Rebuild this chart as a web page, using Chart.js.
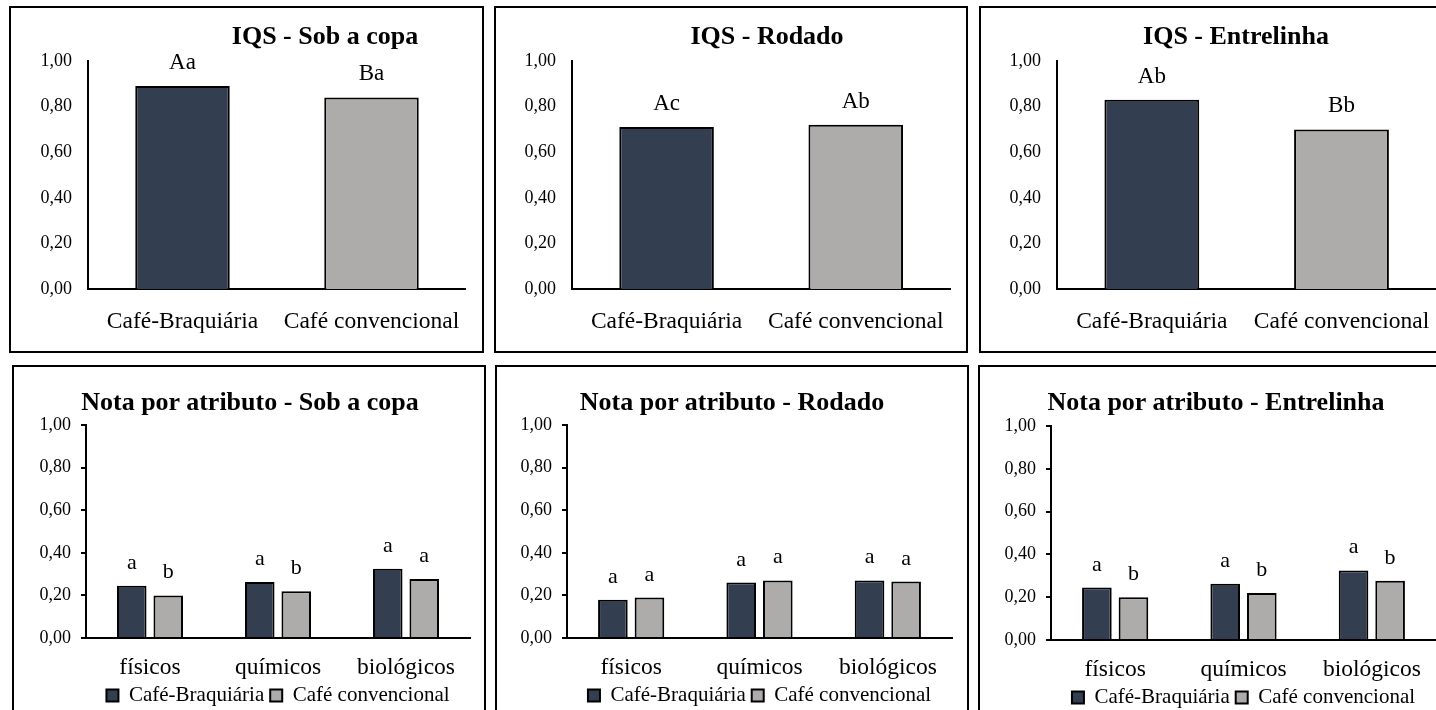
<!DOCTYPE html>
<html>
<head>
<meta charset="utf-8">
<script src="https://cdn.jsdelivr.net/npm/chart.js@4.4.1/dist/chart.umd.min.js"></script>
<style>
  body { margin: 0; width: 1436px; height: 710px; overflow: hidden; background: #fff; position: relative;
         font-family: 'Liberation Serif', 'Times New Roman', serif; color: #000; }
  .painel { position: absolute; border: 2px solid #000; box-sizing: border-box; overflow: hidden; }
  .painel canvas { position: absolute; left: 0; top: 0; }
  .titulo { position: absolute; font-weight: bold; font-size: 26px; line-height: 26px; white-space: nowrap;
            transform: translateX(-50%); }
</style>
</head>
<body>
<script>
// ---- dados ----
const tratamentos = ['Café-Braquiária', 'Café convencional'];
const iqsSobCopa = [0.89, 0.84];
const iqsRodado = [0.71, 0.72];
const iqsEntrelinha = [0.83, 0.70];
const letrasIqsSobCopa = ['Aa', 'Ba'];
const letrasIqsRodado = ['Ac', 'Ab'];
const letrasIqsEntrelinha = ['Ab', 'Bb'];

const atributos = ['físicos', 'químicos', 'biológicos'];
const notaSobCopaBraq = [0.245, 0.263, 0.325];
const notaSobCopaConv = [0.20, 0.22, 0.277];
const notaRodadoBraq = [0.18, 0.26, 0.27];
const notaRodadoConv = [0.19, 0.27, 0.265];
const notaEntrelinhaBraq = [0.245, 0.263, 0.325];
const notaEntrelinhaConv = [0.20, 0.22, 0.277];
const letrasSobCopaBraq = ['a', 'a', 'a'];
const letrasSobCopaConv = ['b', 'b', 'a'];
const letrasRodadoBraq = ['a', 'a', 'a'];
const letrasRodadoConv = ['a', 'a', 'a'];
const letrasEntrelinhaBraq = ['a', 'a', 'a'];
const letrasEntrelinhaConv = ['b', 'b', 'b'];

const COR_BRAQ = '#333F50';
const COR_CONV = '#AEABAB';
const FONTE = "'Liberation Serif', 'Times New Roman', serif";

Chart.defaults.font.family = FONTE;
Chart.defaults.color = '#000';

// letras de significancia acima das barras
const letrasPlugin = {
  id: 'letras',
  afterDatasetsDraw(chart, args, opts) {
    const ctx = chart.ctx;
    ctx.save();
    ctx.font = opts.size + 'px ' + FONTE;
    ctx.fillStyle = '#000';
    ctx.textAlign = 'center';
    ctx.textBaseline = 'alphabetic';
    chart.data.datasets.forEach((ds, i) => {
      chart.getDatasetMeta(i).data.forEach((bar, j) => {
        ctx.fillText(opts.labels[i][j], bar.x, bar.y - 17);
      });
    });
    ctx.restore();
  }
};

const fmt = v => v.toFixed(2).replace('.', ',');

function painel(box, titulo, tituloX, tituloY) {
  const div = document.createElement('div');
  div.className = 'painel';
  div.style.left = box.x + 'px';
  div.style.top = box.y + 'px';
  div.style.width = box.w + 'px';
  div.style.height = box.h + 'px';
  document.body.appendChild(div);
  const cv = document.createElement('canvas');
  cv.width = box.w - 4;
  cv.height = box.h - 4;
  div.appendChild(cv);
  const t = document.createElement('div');
  t.className = 'titulo';
  t.textContent = titulo;
  t.style.left = tituloX + 'px';
  t.style.top = tituloY + 'px';
  document.body.appendChild(t);
  return cv;
}

// area = coordenadas absolutas da area do grafico
function montar(box, area, cfg, titulo, tx, ty) {
  const cv = painel(box, titulo, tx, ty);
  const ox = box.x + 2, oy = box.y + 2;
  const l = area.l - ox, r = area.r - ox, t = area.t - oy, b = area.b - oy;
  cfg.options.layout = { padding: { left: 0, right: cv.width - r, top: t, bottom: 0 } };
  cfg.options.scales.y.afterFit = s => { s.width = l; };
  const chart = new Chart(cv, cfg);
  const diff = chart.chartArea.bottom - b;
  chart.options.layout.padding.bottom = diff;
  chart.update();
}

function iqs(box, area, valores, letras, titulo, tx) {
  montar(box, area, {
    type: 'bar',
    data: {
      labels: tratamentos,
      datasets: [{
        data: valores,
        backgroundColor: [COR_BRAQ, COR_CONV],
        borderColor: '#000',
        borderWidth: 2,
        borderSkipped: 'bottom',
        categoryPercentage: 0.5,
        barPercentage: 1
      }]
    },
    options: {
      responsive: false,
      animation: false,
      events: [],
      plugins: {
        legend: { display: false },
        tooltip: { enabled: false },
        letras: { labels: [letras], size: 23 }
      },
      scales: {
        x: {
          grid: { display: false, drawTicks: false },
          border: { display: true, color: '#000', width: 2 },
          ticks: { font: { size: 23.5 }, padding: 19, color: '#000' }
        },
        y: {
          min: 0, max: 1,
          grid: { display: false, drawTicks: false },
          border: { display: true, color: '#000', width: 2 },
          ticks: { stepSize: 0.2, callback: fmt, font: { size: 18 }, padding: 16, color: '#000' }
        }
      }
    },
    plugins: [letrasPlugin]
  }, titulo, tx, 23);
}

function nota(box, area, braq, conv, letrasB, letrasC, titulo, tx, legPad) {
  montar(box, area, {
    type: 'bar',
    data: {
      labels: atributos,
      datasets: [
        { label: 'Café-Braquiária', data: braq, backgroundColor: COR_BRAQ, borderColor: '#000', borderWidth: 2,
          borderSkipped: 'bottom', categoryPercentage: 0.57, barPercentage: 0.81 },
        { label: 'Café convencional', data: conv, backgroundColor: COR_CONV, borderColor: '#000', borderWidth: 2,
          borderSkipped: 'bottom', categoryPercentage: 0.57, barPercentage: 0.81 }
      ]
    },
    options: {
      responsive: false,
      animation: false,
      events: [],
      plugins: {
        legend: {
          position: 'bottom',
          fullSize: false,
          labels: { boxWidth: 12, boxHeight: 12, padding: legPad, font: { size: 21 }, color: '#000' }
        },
        tooltip: { enabled: false },
        letras: { labels: [letrasB, letrasC], size: 22 }
      },
      scales: {
        x: {
          grid: { display: false, drawTicks: false },
          border: { display: true, color: '#000', width: 2 },
          ticks: { font: { size: 23.5 }, padding: 16, color: '#000' },
          afterFit: s => { s.height = 41; }
        },
        y: {
          min: 0, max: 1,
          grid: { display: true, drawOnChartArea: false, drawTicks: true, tickLength: 5, color: '#000', lineWidth: 2 },
          border: { display: true, color: '#000', width: 2 },
          ticks: { stepSize: 0.2, callback: fmt, font: { size: 18 }, padding: 10, color: '#000' }
        }
      }
    },
    plugins: [letrasPlugin]
  }, titulo, tx, 389);
}

iqs({ x: 9, y: 6, w: 475, h: 347 }, { l: 88, r: 467, t: 61, b: 289 }, iqsSobCopa, letrasIqsSobCopa, 'IQS - Sob a copa', 325);
iqs({ x: 494, y: 6, w: 474, h: 347 }, { l: 572, r: 952, t: 61, b: 289 }, iqsRodado, letrasIqsRodado, 'IQS - Rodado', 767);
iqs({ x: 979, y: 6, w: 475, h: 347 }, { l: 1057, r: 1437, t: 61, b: 289 }, iqsEntrelinha, letrasIqsEntrelinha, 'IQS - Entrelinha', 1236);

nota({ x: 12, y: 365, w: 474, h: 400 }, { l: 86, r: 470, t: 425, b: 638 }, notaSobCopaBraq, notaSobCopaConv,
  letrasSobCopaBraq, letrasSobCopaConv, 'Nota por atributo - Sob a copa', 250, 6);
nota({ x: 495, y: 365, w: 474, h: 400 }, { l: 567, r: 952, t: 425, b: 638 }, notaRodadoBraq, notaRodadoConv,
  letrasRodadoBraq, letrasRodadoConv, 'Nota por atributo - Rodado', 732, 6);
nota({ x: 978, y: 365, w: 475, h: 400 }, { l: 1051, r: 1436, t: 426, b: 640 }, notaEntrelinhaBraq, notaEntrelinhaConv,
  letrasEntrelinhaBraq, letrasEntrelinhaConv, 'Nota por atributo - Entrelinha', 1216, 6);
</script>
</body>
</html>
